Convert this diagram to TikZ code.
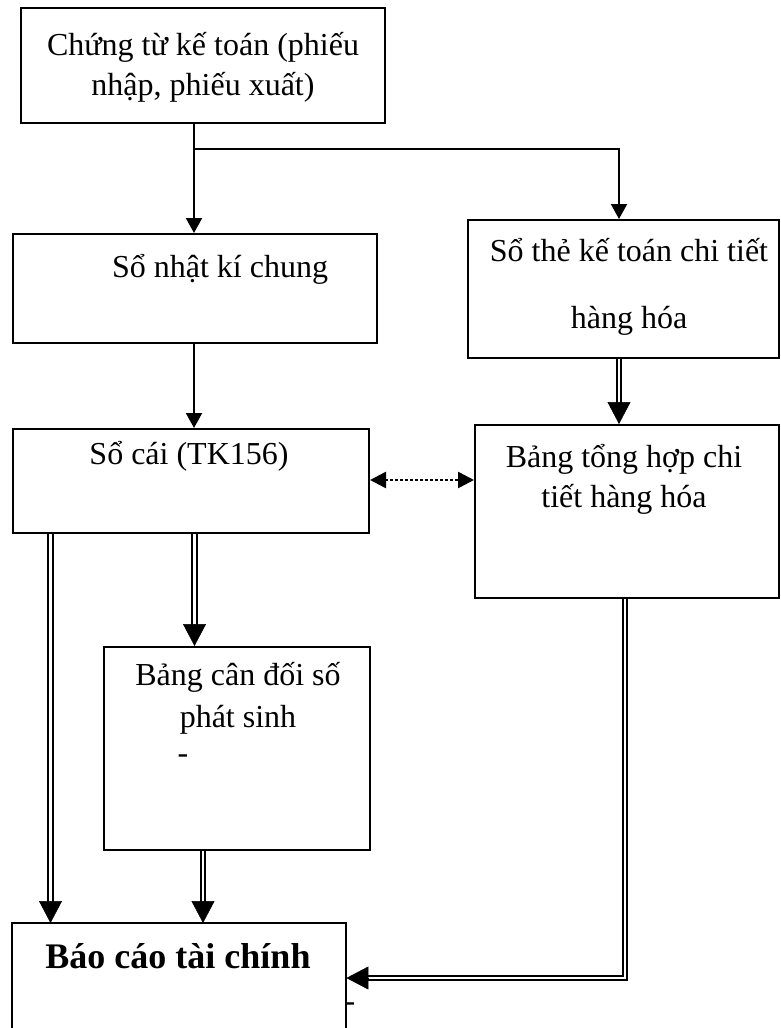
\documentclass[tikz,border=0pt]{standalone}
\usepackage{fontspec}
\setmainfont{Liberation Serif}
\usetikzlibrary{arrows.meta,calc}
\begin{document}
\begin{tikzpicture}[x=1pt,y=-1pt,
  box/.style={draw,line width=2pt,rectangle,inner sep=0pt,anchor=north west},
  txt/.style={inner sep=0pt,anchor=base,font=\fontsize{32}{38}\selectfont},
  btxt/.style={inner sep=0pt,anchor=base,font=\fontsize{36}{42}\selectfont\bfseries},
  arr/.style={line width=2pt,-{Triangle[width=16pt,length=15pt]}},
  plain/.style={line width=2pt},
  dbl/.style={double,line width=2pt,double distance=2.6pt,line join=miter},
  bigtip/.style={line width=0.5pt,-{Triangle[width=23pt,length=22pt]}},
  dotarr/.style={line width=2.5pt,dash pattern=on 2.5pt off 2.5pt,{Triangle[width=16pt,length=16pt]}-{Triangle[width=16pt,length=16pt]}}
]
\useasboundingbox (0,0) rectangle (780,1028);

% boxes
\node[box,minimum width=364pt,minimum height=115pt] (b1) at (20,7) {};
\node[box,minimum width=364pt,minimum height=109pt] (b2) at (12,233) {};
\node[box,minimum width=311pt,minimum height=138pt] (b3) at (467,219) {};
\node[box,minimum width=356pt,minimum height=104pt] (b4) at (12,428) {};
\node[box,minimum width=304pt,minimum height=173pt] (b5) at (474,424) {};
\node[box,minimum width=266pt,minimum height=203pt] (b7) at (103,646) {};
\node[inner sep=0pt,minimum width=334pt,minimum height=112pt,anchor=north west] (b6) at (12,923) {};
\draw[plain] (b6.south west) -- (b6.north west) -- (b6.north east) -- (b6.south east);

% texts
\node[txt] (t1a) at (203,55) {Chứng từ kế toán (phiếu};
\node[txt] (t1b) at (203,95) {nhập, phiếu xuất)};
\node[txt] (t2) at (220,277) {Sổ nhật kí chung};
\node[txt] (t3a) at (629,261) {Sổ thẻ kế toán chi tiết};
\node[txt] (t3b) at (629,328) {hàng hóa};
\node[txt] (t4) at (189,464) {Sổ cái (TK156)};
\node[txt] (t5a) at (624,467) {Bảng tổng hợp chi};
\node[txt] (t5b) at (624,507) {tiết hàng hóa};
\node[txt] (t7a) at (238,685) {Bảng cân đối số};
\node[txt] (t7b) at (238,727) {phát sinh};
\node[txt] (d1) at (183,763) {-};
\node[btxt] (t6) at (178,968) {Báo cáo tài chính};
\node[txt] (d2) at (350,1011) {-};

% helper coordinates
\coordinate (xa) at (194,0);
\coordinate (xb) at (619,0);
\coordinate (j1) at (194,149);
\coordinate (yd) at (0,480);
\coordinate (xl) at (50.5,0);
\coordinate (xm) at (194.5,0);
\coordinate (xn) at (203,0);
\coordinate (xr) at (625,0);
\coordinate (yr) at (0,978);

% single arrows
\draw[arr] (b1.south -| xa) -- (b2.north -| xa);
\draw[arr] (j1) -| (b3.north -| xb);
\draw[arr] (b2.south -| xa) -- (b4.north -| xa);
\draw[dotarr] (b4.east |- yd) -- (b5.west |- yd);

% double arrows
\draw[dbl,shorten >=20pt] (b3.south -| xb) -- (b5.north -| xb);
\draw[bigtip] ($(b5.north -| xb)+(0,-22)$) -- (b5.north -| xb);

\draw[dbl,shorten >=20pt] (b4.south -| xl) -- (b6.north -| xl);
\draw[bigtip] ($(b6.north -| xl)+(0,-22)$) -- (b6.north -| xl);

\draw[dbl,shorten >=20pt] (b4.south -| xm) -- (b7.north -| xm);
\draw[bigtip] ($(b7.north -| xm)+(0,-22)$) -- (b7.north -| xm);

\draw[dbl,shorten >=20pt] (b7.south -| xn) -- (b6.north -| xn);
\draw[bigtip] ($(b6.north -| xn)+(0,-22)$) -- (b6.north -| xn);

\draw[dbl,shorten >=20pt] (b5.south -| xr) |- (b6.east |- yr);
\draw[bigtip] ($(b6.east |- yr)+(22,0)$) -- (b6.east |- yr);
\end{tikzpicture}
\end{document}
